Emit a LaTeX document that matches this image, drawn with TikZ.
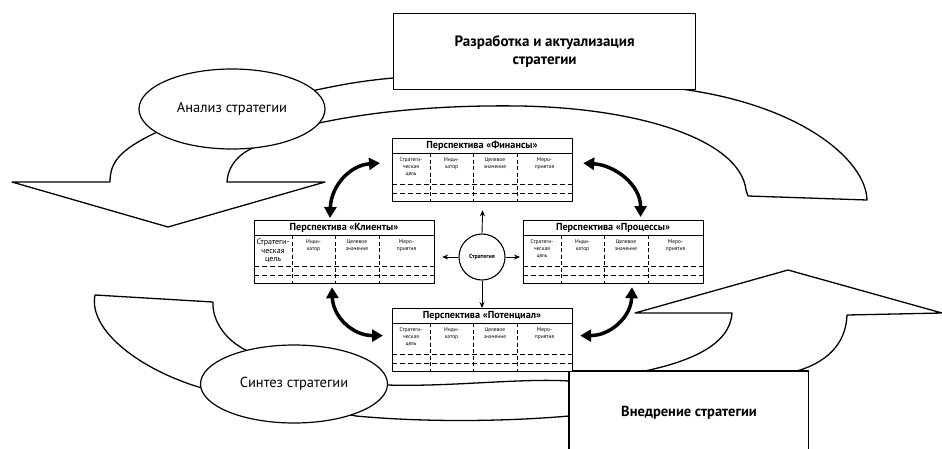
\documentclass[tikz,border=0pt]{standalone}
\usepackage{fontspec}
\setmainfont{PT Sans}
\usetikzlibrary{arrows.meta,shapes.geometric,calc}

\tikzset{
  band/.style={draw=black, fill=white, line width=1.3pt, line join=round},
  bigbox/.style={draw=black, fill=white, line width=1.3pt},
  oval/.style={ellipse, draw=black, fill=white, line width=1.2pt, inner sep=0pt},
  tbl/.style={draw=black, fill=white, line width=1.2pt, minimum width=180pt, minimum height=63pt, inner sep=0pt},
  tblline/.style={line width=0.9pt},
  hdr/.style={font=\bfseries\fontsize{10.2}{11}\selectfont, inner sep=0pt},
  cell/.style={align=center, inner sep=0pt, anchor=north, font=\fontsize{5.5}{7}\selectfont},
  vdash/.style={line width=0.9pt, dash pattern=on 4pt off 2.5pt},
  hdash/.style={line width=1pt, dash pattern=on 5pt off 3pt},
  swoosh/.style={line width=3.5pt, {Triangle[length=11pt,width=12pt]}-{Triangle[length=11pt,width=12pt]}},
  thin arrow/.style={line width=0.9pt, -{Stealth[length=6pt,width=5pt]}}
}

\newcommand\persptable[5]{%
  \begin{scope}[shift={(#2,#3)}]
    \node[tbl, anchor=north west] (#1) at (0,0) {};
    \draw[tblline] (0,15) -- (180,15);
    \node[hdr] (#1h) at (90,7.8) {Перспектива «#4»};
    \foreach \cx in {38,81,125} \draw[vdash] (\cx,15) -- (\cx,63);
    \draw[hdash] (0,46) -- (180,46);
    \draw[hdash] (0,55) -- (180,55);
    \node[cell, font={#5}] (#1a) at (19,19) {Стратеги-\\ческая\\цель};
    \node[cell] (#1b) at (59.5,19) {Инди-\\катор};
    \node[cell] (#1c) at (103,19) {Целевое\\значение};
    \node[cell] (#1d) at (152.5,19) {Меро-\\приятия};
  \end{scope}}

\begin{document}
\begin{tikzpicture}[x=1pt,y=-1pt]
\useasboundingbox (0,0) rectangle (942,448);
\fill[white] (0,0) rectangle (942,448);

% upper band: down arrow at left, arc over to the right
\draw[band] (12,182) -- (168,227) -- (325,182) -- (227,182)
  .. controls (228,165) and (240,152) .. (258,146)
  -- (300,128) -- (319,123)
  .. controls (380,110) and (450,105) .. (520,106)
  .. controls (640,108) and (740,140) .. (746,190)
  -- (748,196) -- (867,200)
  .. controls (866,160) and (800,103) .. (673,88)
  -- (600,60) -- (400,70) -- (393,78)
  .. controls (360,81) and (340,85) .. (316,90)
  -- (250,105) -- (155,133)
  .. controls (120,150) and (110,162) .. (110,182)
  -- cycle;

% lower band: up arrow at right, arc to the left
\draw[band] (788,270) -- (942,313) -- (847,315)
  .. controls (846,345) and (825,364) .. (793,372)
  -- (760,400) -- (580,414) -- (569,416)
  .. controls (500,422) and (420,422) .. (356,416)
  -- (300,405) -- (202,388)
  .. controls (140,370) and (88,330) .. (95,295)
  -- (213,302)
  .. controls (212,320) and (225,342) .. (252,353)
  -- (330,380) -- (387,385)
  .. controls (450,387) and (520,378) .. (569,381)
  -- (600,385) -- (640,372)
  .. controls (690,362) and (730,345) .. (732,313)
  -- (635,313) -- cycle;

% boxes and ellipses
\node[bigbox, anchor=north west, minimum width=302pt, minimum height=76pt, align=center,
      font=\bfseries\fontsize{15}{18}\selectfont] (dev) at (393,13)
      {Разработка и актуализация\\стратегии};
\node[oval, minimum width=186pt, minimum height=80pt, font=\fontsize{14.5}{17}\selectfont]
      (ana) at (232,109) {Анализ стратегии};
\node[oval, minimum width=187pt, minimum height=78pt, font=\fontsize{14.5}{17}\selectfont]
      (syn) at (294,384) {Синтез стратегии};
\node[fill=white, anchor=north west, minimum width=239pt, minimum height=80pt, inner sep=0pt]
      (imp) at (569,371) {};
\draw[line width=1.3pt] (imp.south west) -- (imp.north west) -- (imp.north east) -- (imp.south east);
\node[font=\bfseries\fontsize{14.5}{17}\selectfont] (impt) at (689,413) {Внедрение стратегии};

% perspective tables
\persptable{fin}{392}{138}{Финансы}{\fontsize{5.5}{7}\selectfont}
\persptable{kli}{254}{220}{Клиенты}{\fontsize{8}{8.5}\selectfont}
\persptable{pro}{523}{220}{Процессы}{\fontsize{5.5}{7}\selectfont}
\persptable{pot}{392}{308}{Потенциал}{\fontsize{5.5}{7}\selectfont}

% strategy circle
\node[circle, draw=black, fill=white, line width=1.1pt, minimum size=46pt, inner sep=0pt,
      font=\bfseries\fontsize{6}{7}\selectfont] (str) at (482,257) {Стратегия};
\draw[thin arrow] (str.north) -- ([yshift=-8pt]fin.south);
\draw[thin arrow] (str.south) -- (str.south |- pot.north);
\draw[thin arrow] (str.west) -- ($(str.west -| kli.east)+(7,0)$);
\draw[thin arrow] (str.east) -- ($(str.east -| pro.west)+(-3,0)$);

% curved thick arrows
\draw[swoosh] ([xshift=76pt,yshift=2pt]kli.north west) .. controls +(1,-32) and +(-30,2) .. ([xshift=-12pt,yshift=7pt]fin.west);
\draw[swoosh] ([xshift=10pt,yshift=7pt]fin.east) .. controls +(32,2) and +(0,-32) .. ([xshift=27pt,yshift=3pt]pro.north);
\draw[swoosh] ([xshift=78pt,yshift=-3pt]kli.south west) .. controls +(1,30) and +(-30,0) .. ([xshift=-9pt,yshift=4.5pt]pot.west);
\draw[swoosh] ([xshift=109pt,yshift=-3pt]pro.south west) .. controls +(-1,30) and +(30,0) .. ([xshift=7pt,yshift=4.5pt]pot.east);
\end{tikzpicture}
\end{document}
